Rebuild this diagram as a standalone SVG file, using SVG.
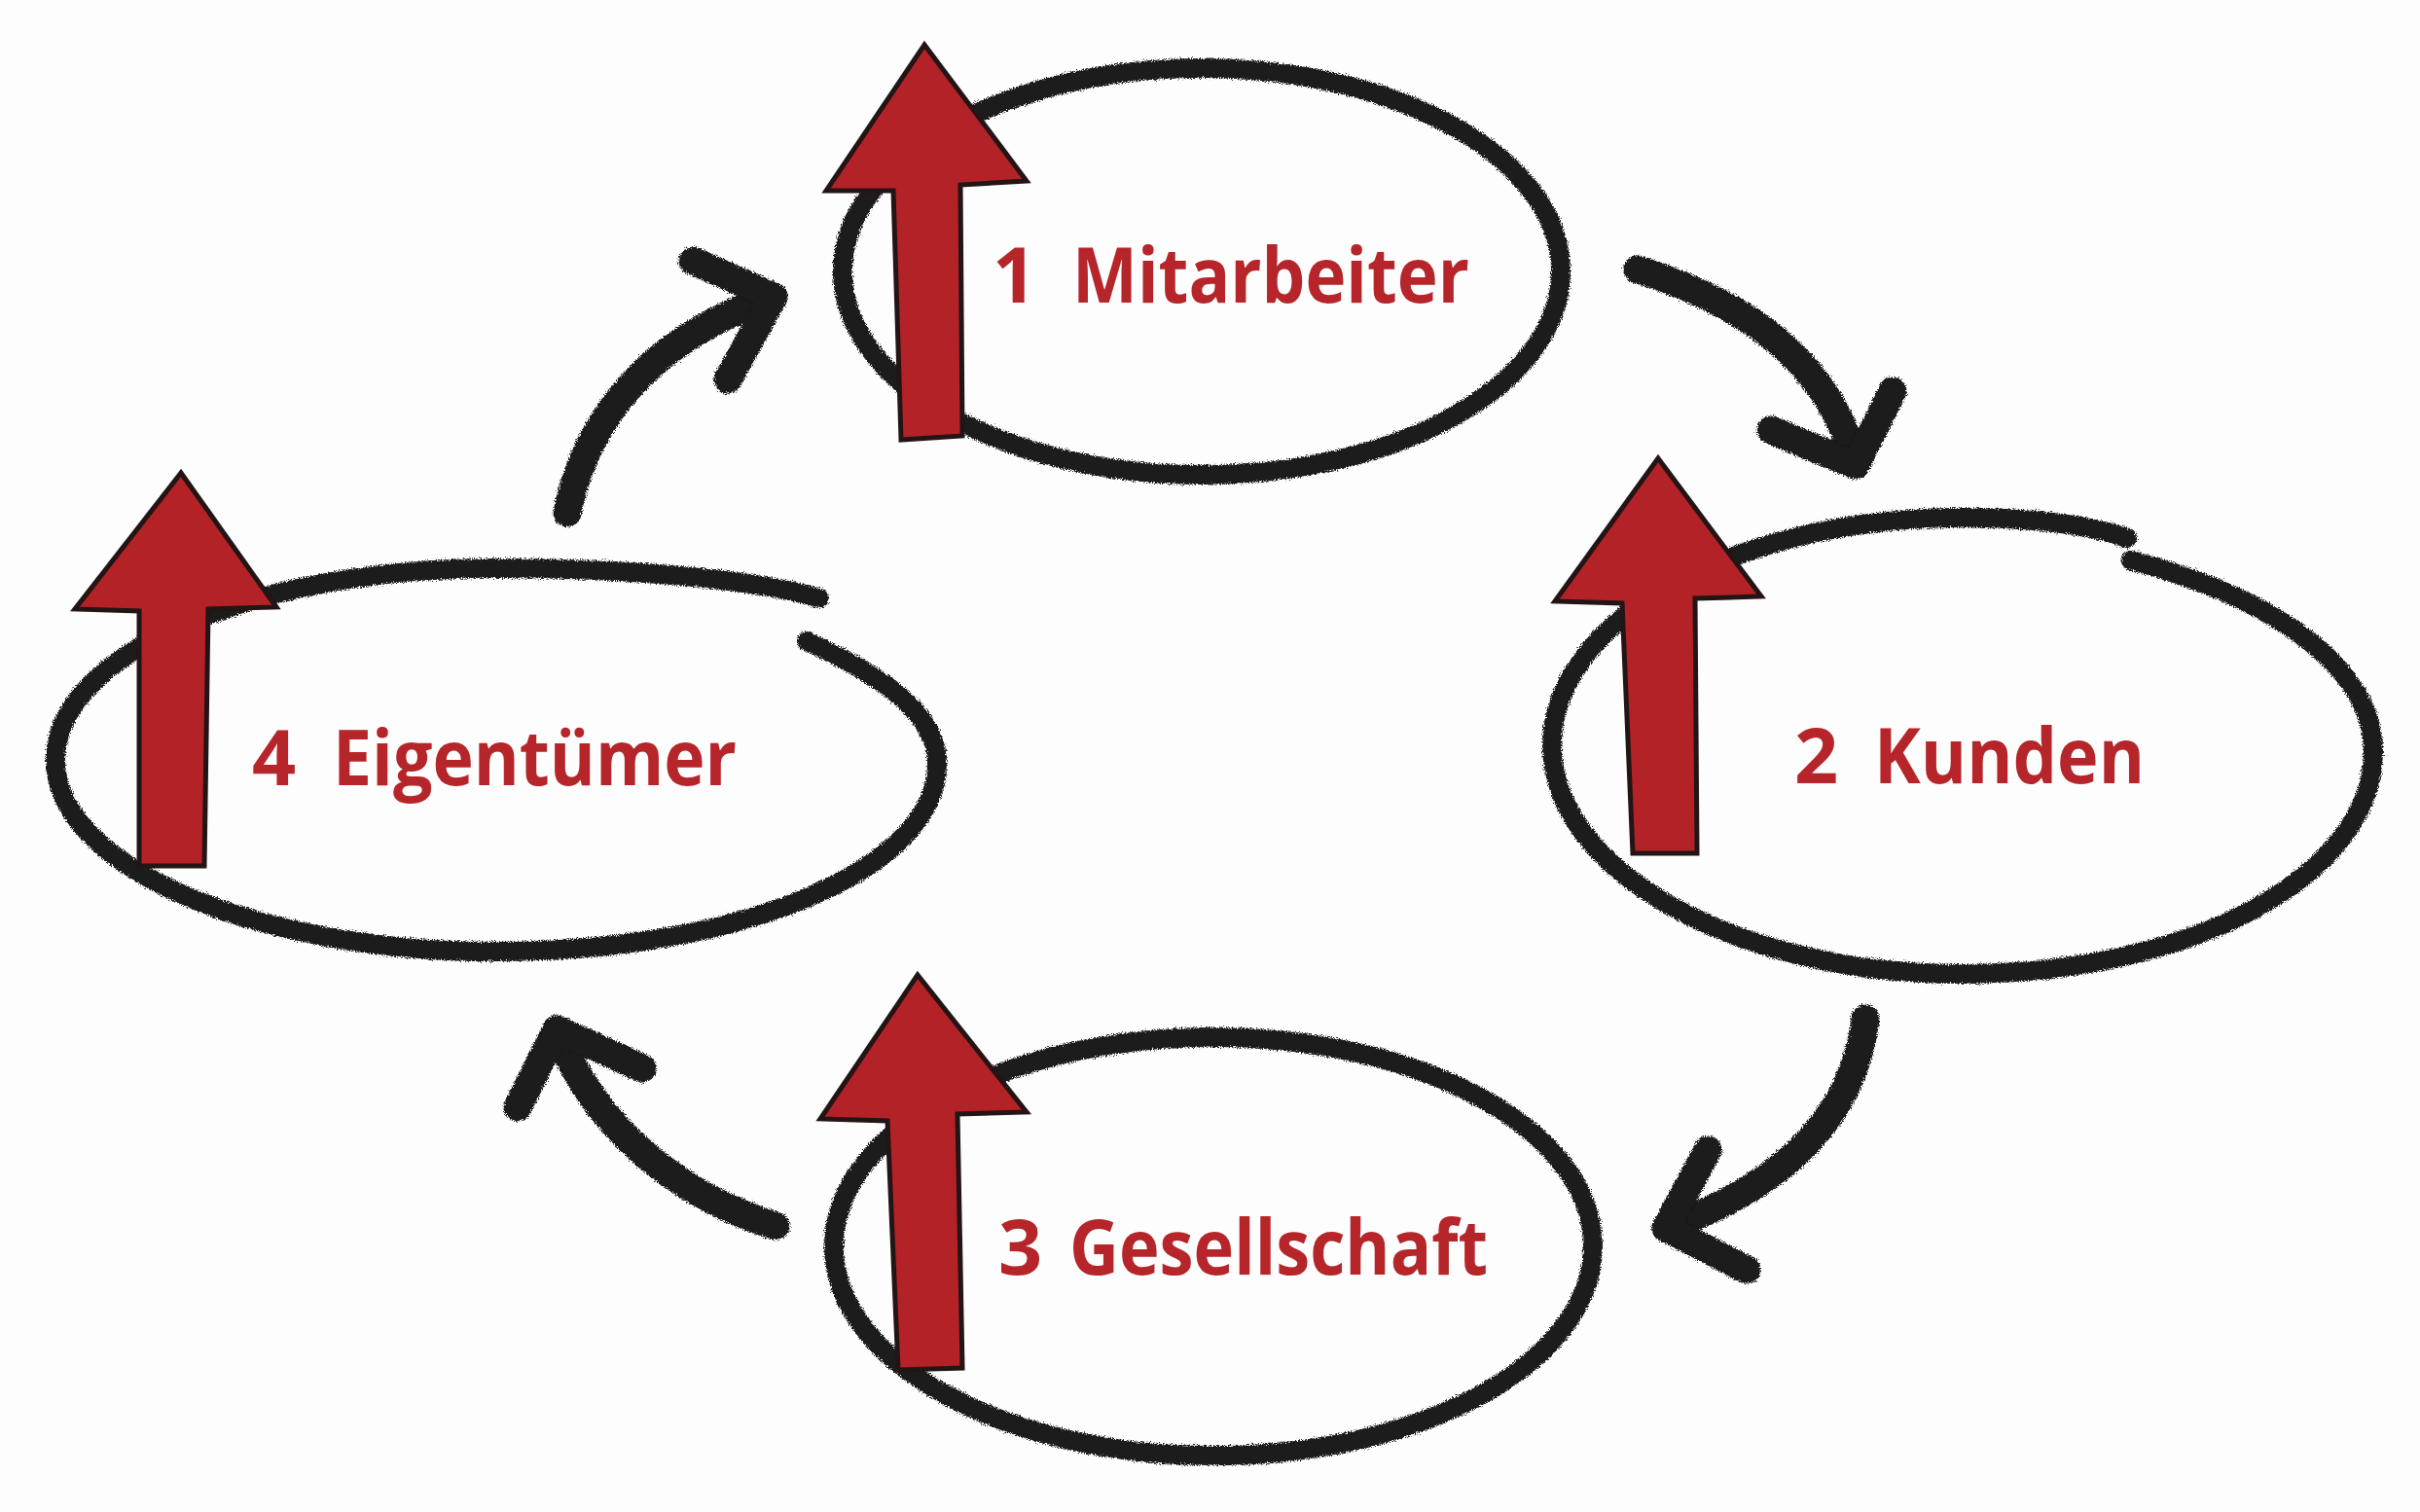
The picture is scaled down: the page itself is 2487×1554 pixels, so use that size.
<svg xmlns="http://www.w3.org/2000/svg" width="2487" height="1554" viewBox="0 0 2487 1554">
<style>
.ring{fill:none;stroke:#1c1c1c;stroke-width:20;stroke-linecap:round;stroke-linejoin:round}
.up{fill:#b32226;stroke:#231515;stroke-width:5;stroke-linejoin:miter}
.lbl{font-family:"Open Sans","Liberation Sans",sans-serif;font-weight:700;font-size:79px;fill:#b5252a}
.con{fill:none;stroke:#1a1a1a;stroke-width:29;stroke-linecap:round;stroke-linejoin:round}
</style>
<defs>
<filter id="pencil" x="-10%" y="-10%" width="120%" height="120%">
<feTurbulence type="fractalNoise" baseFrequency="0.9" numOctaves="2" seed="4" result="n"/>
<feDisplacementMap in="SourceGraphic" in2="n" scale="7" xChannelSelector="R" yChannelSelector="G"/>
</filter>
</defs>
<rect width="2487" height="1554" fill="#fdfdfd"/>
<g id="connectors" filter="url(#pencil)">
<path class="con" d="M 583 527 C 600 440 660 350 795 305"/>
<path class="con" d="M 712 268 L 795 305 L 748 390"/>
<path class="con" d="M 1683 277 C 1790 310 1880 370 1907 478"/>
<path class="con" d="M 1820 442 L 1907 478 L 1945 402"/>
<path class="con" d="M 1917 1047 C 1905 1150 1830 1220 1712 1262"/>
<path class="con" d="M 1755 1182 L 1712 1262 L 1795 1305"/>
<path class="con" d="M 797 1260 C 700 1230 610 1160 572 1058"/>
<path class="con" d="M 532 1138 L 572 1058 L 660 1098"/>
</g>
<g id="node-1">
<path class="ring" filter="url(#pencil)" d="M 1235 70 C 1439 70 1604 164 1604 279 C 1604 394 1439 488 1235 488 C 1031 488 866 394 866 279 C 866 164 1031 70 1235 70 Z"/>
<polygon class="up" points="950,46 1055,186 987,190 989,448 926,452 918,196 849,196"/>
<text class="lbl" y="311"><tspan x="1020">1</tspan> <tspan x="1102" textLength="408" lengthAdjust="spacingAndGlyphs">Mitarbeiter</tspan></text>
</g>
<g id="node-2">
<path class="ring" filter="url(#pencil)" d="M 2190 576 C 2340 615 2439 688 2439 772 C 2439 901 2250 1001 2017 1001 C 1784 1001 1595 895 1595 766 C 1595 637 1784 532 2017 532 C 2090 532 2150 540 2186 553"/>
<polygon class="up" points="1704,471 1810,613 1742,615 1744,877 1678,877 1667,620 1598,618"/>
<text class="lbl" y="805"><tspan x="1844">2</tspan> <tspan x="1926" textLength="278" lengthAdjust="spacingAndGlyphs">Kunden</tspan></text>
</g>
<g id="node-3">
<path class="ring" filter="url(#pencil)" d="M 1247 1066 C 1462 1066 1637 1162 1637 1281 C 1637 1400 1462 1496 1247 1496 C 1032 1496 857 1400 857 1281 C 857 1162 1032 1066 1247 1066 Z"/>
<polygon class="up" points="943,1002 1055,1143 984,1145 989,1406 923,1408 912,1152 843,1150"/>
<text class="lbl" y="1310"><tspan x="1026">3</tspan> <tspan x="1099" textLength="430" lengthAdjust="spacingAndGlyphs">Gesellschaft</tspan></text>
</g>
<g id="node-4">
<path class="ring" filter="url(#pencil)" d="M 829 659 C 920 700 963 740 963 785 C 963 894 760 978 510 978 C 260 978 57 890 57 781 C 57 672 260 584 510 584 C 650 584 780 596 842 615"/>
<polygon class="up" points="186,486 284,624 214,626 210,890 143,890 143,628 77,626"/>
<text class="lbl" y="807"><tspan x="259">4</tspan> <tspan x="342" textLength="415" lengthAdjust="spacingAndGlyphs">Eigentümer</tspan></text>
</g>
</svg>
